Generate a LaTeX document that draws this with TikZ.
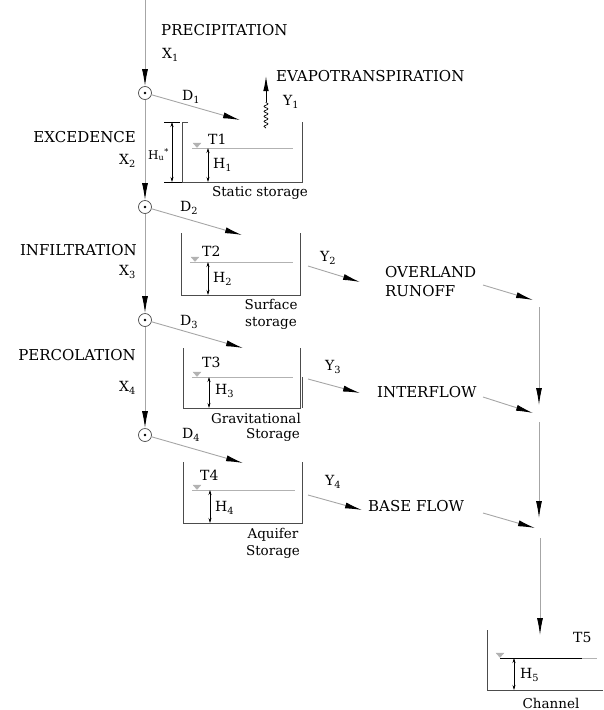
\documentclass[tikz,border=0pt]{standalone}
\usepackage{fontspec}
\setmainfont{DejaVu Serif}
\usetikzlibrary{arrows.meta,decorations.pathmorphing}
\begin{document}
\begin{tikzpicture}[x=1pt,y=-1pt,
  ln/.style={draw=gray!70,line width=0.9pt},
  arr/.style={ln,-{Latex[length=17pt,width=6pt,color=black]}},
  dim/.style={draw=black,line width=0.6pt,{Stealth[length=5pt,width=3pt]}-{Stealth[length=5pt,width=3pt]}},
  tank/.style={draw=gray!60!black,line width=0.8pt},
  wline/.style={draw=gray!60,line width=0.8pt},
  junc/.style={circle,draw=gray!60!black,line width=0.7pt,minimum size=13pt,inner sep=0pt},
  capl/.style={font=\fontsize{15}{18}\selectfont,inner sep=0pt},
  lab/.style={font=\fontsize{14}{15}\selectfont,inner sep=0pt},
  cpt/.style={font=\fontsize{13.5}{17}\selectfont,inner sep=0pt,align=center},
  wsym/.style={fill=gray!60,draw=gray!60,line width=0.3pt}
]
\useasboundingbox (0,0) rectangle (604,710);

% ---- main column junctions
\node[junc] (c1) at (145,93) {};
\node[junc] (c2) at (145,207) {};
\node[junc] (c3) at (145,320) {};
\node[junc] (c4) at (145,435) {};
\foreach \c in {c1,c2,c3,c4} \fill (\c) circle (1.4pt);
\coordinate (top) at (145,0);
\draw[arr] (top) -- (c1.north);
\draw[arr] (c1.south) -- (c2.north);
\draw[arr] (c2.south) -- (c3.north);
\draw[arr] (c3.south) -- (c4.north);

% ---- left labels
\node[capl,anchor=west] (prec) at (161,30) {PRECIPITATION};
\node[lab,anchor=west] (x1) at (162,55) {X\textsubscript{1}};
\node[capl,anchor=east] (exc) at (136,137) {EXCEDENCE};
\node[lab,anchor=east] (x2) at (136,161) {X\textsubscript{2}};
\node[capl,anchor=east] (inf) at (137,250) {INFILTRATION};
\node[lab,anchor=east] (x3) at (136,272) {X\textsubscript{3}};
\node[capl,anchor=east] (perc) at (136,355) {PERCOLATION};
\node[lab,anchor=east] (x4) at (136,388) {X\textsubscript{4}};

% ---- D arrows
\coordinate (d1e) at (240,120);
\coordinate (d2e) at (242,235);
\coordinate (d3e) at (243,348);
\coordinate (d4e) at (243,463);
\draw[arr] (c1) ++(-15:6.5pt) coordinate (c1o) -- (d1e);
\draw[arr] (c2) ++(-15:6.5pt) coordinate (c2o) -- (d2e);
\draw[arr] (c3) ++(-15:6.5pt) coordinate (c3o) -- (d3e);
\draw[arr] (c4) ++(-15:6.5pt) coordinate (c4o) -- (d4e);
\node[lab,anchor=west] (d1) at (182,97) {D\textsubscript{1}};
\node[lab,anchor=west] (d2) at (180,208) {D\textsubscript{2}};
\node[lab,anchor=west] (d3) at (180,322) {D\textsubscript{3}};
\node[lab,anchor=west] (d4) at (182,435) {D\textsubscript{4}};

% ---- tank T1 (static storage)
\draw[tank] (188,122) -- (182,122) -- (182,182) -- (302,182) -- (302,122);
\draw[wline] (192,148) -- (293,148);
\draw[wsym] (193,143) -- (201,143) -- (197,147.5) -- cycle;
\draw[dim] (208,148) -- (208,182);
\node[lab,anchor=west] (t1) at (208,139) {T1};
\node[lab,anchor=west] (h1) at (213,165) {H\textsubscript{1}};
\draw[draw=black,line width=0.5pt] (164,122) -- (180,122);
\draw[draw=black,line width=0.5pt] (164,182) -- (182,182);
\draw[dim] (172,122) -- (172,182);
\node[anchor=east,inner sep=0pt,font=\fontsize{12}{13}\selectfont] (hu) at (169,155) {H\textsubscript{u}\textsuperscript{*}};
\node[cpt] (st1) at (260,193) {Static storage};

% evapotranspiration
\coordinate (ev0) at (266,128);
\coordinate (ev1) at (266,102);
\coordinate (ev2) at (266,76);
\draw[draw=black,line width=0.7pt,decorate,decoration={snake,amplitude=2pt,segment length=5pt}] (ev0) -- (ev1);
\draw[draw=black,line width=1pt,-{Latex[length=15pt,width=5.5pt]}] (ev1) -- (ev2);
\node[capl,anchor=west] (evap) at (276,76) {EVAPOTRANSPIRATION};
\node[lab,anchor=west] (y1) at (283,102) {Y\textsubscript{1}};

% ---- tank T2 (surface storage)
\draw[tank] (181,233) -- (181,295) -- (300,295) -- (300,233);
\draw[wline] (190,262) -- (293,262);
\draw[wsym] (191,257) -- (199,257) -- (195,261.5) -- cycle;
\draw[dim] (208,262) -- (208,295);
\node[lab,anchor=west] (t2) at (202,251) {T2};
\node[lab,anchor=west] (h2) at (213,279) {H\textsubscript{2}};
\node[cpt] (st2) at (271,314) {Surface\\storage};
\coordinate (y2s) at (308,266);
\coordinate (y2e) at (360,282);
\draw[arr] (y2s) -- (y2e);
\node[lab,anchor=west] (y2) at (320,258) {Y\textsubscript{2}};

% ---- tank T3 (gravitational storage)
\draw[tank] (183,348) -- (183,408) -- (300,408) -- (300,348);
\draw[draw=gray!60!black,line width=1pt] (302,377) -- (302,408);
\draw[wline] (192,377) -- (293,377);
\draw[wsym] (193,372) -- (201,372) -- (197,376.5) -- cycle;
\draw[dim] (209,377) -- (209,408);
\node[lab,anchor=west] (t3) at (202,362) {T3};
\node[lab,anchor=west] (h3) at (215,391) {H\textsubscript{3}};
\node[cpt] (st3a) at (256,418) {Gravitational};
\node[cpt] (st3b) at (273,435) {Storage};
\coordinate (y3s) at (308,379);
\coordinate (y3e) at (360,393);
\draw[arr] (y3s) -- (y3e);
\node[lab,anchor=west] (y3) at (325,367) {Y\textsubscript{3}};

% ---- tank T4 (aquifer storage)
\draw[tank] (183,462) -- (183,523) -- (302,523) -- (302,462);
\draw[draw=gray!60!black,line width=1pt] (183,462) -- (183,500);
\draw[wline] (192,490) -- (295,490);
\draw[wsym] (193,485) -- (201,485) -- (197,489.5) -- cycle;
\draw[dim] (210,490) -- (210,523);
\node[lab,anchor=west] (t4) at (200,475) {T4};
\node[lab,anchor=west] (h4) at (215,508) {H\textsubscript{4}};
\node[cpt] (st4) at (273,543) {Aquifer\\Storage};
\coordinate (y4s) at (308,495);
\coordinate (y4e) at (362,510);
\draw[arr] (y4s) -- (y4e);
\node[lab,anchor=west] (y4) at (325,482) {Y\textsubscript{4}};

% ---- outflow labels
\node[capl,anchor=west,align=left,font=\fontsize{15}{19}\selectfont] (ovr) at (385,282) {OVERLAND\\RUNOFF};
\node[capl,anchor=west] (intf) at (377,392) {INTERFLOW};
\node[capl,anchor=west] (base) at (368,506) {BASE FLOW};

\coordinate (o1s) at (483,285);
\coordinate (o1e) at (533,300);
\coordinate (o2s) at (483,397);
\coordinate (o2e) at (533,413);
\coordinate (o3s) at (483,513);
\coordinate (o3e) at (535,528);
\draw[arr] (o1s) -- (o1e);
\draw[arr] (o2s) -- (o2e);
\draw[arr] (o3s) -- (o3e);

\coordinate (v1s) at (539,307);
\coordinate (v1e) at (539,405);
\coordinate (v2s) at (539,422);
\coordinate (v2e) at (539,518);
\coordinate (v3s) at (540,538);
\coordinate (v3e) at (540,635);
\draw[arr] (v1s) -- (v1e);
\draw[arr] (v2s) -- (v2e);
\draw[arr] (v3s) -- (v3e);

% ---- tank T5 (channel)
\draw[tank] (487,630) -- (487,690) -- (603,690);
\draw[draw=black,line width=0.8pt] (500,658) -- (582,658);
\draw[wline] (582,658) -- (597,658);
\draw[wsym] (496,653) -- (504,653) -- (500,657.5) -- cycle;
\draw[dim] (514,658) -- (514,690);
\node[lab,anchor=west] (t5) at (573,637) {T5};
\node[lab,anchor=west] (h5) at (520,675) {H\textsubscript{5}};
\node[cpt] (chan) at (551,703) {Channel};
\end{tikzpicture}
\end{document}
